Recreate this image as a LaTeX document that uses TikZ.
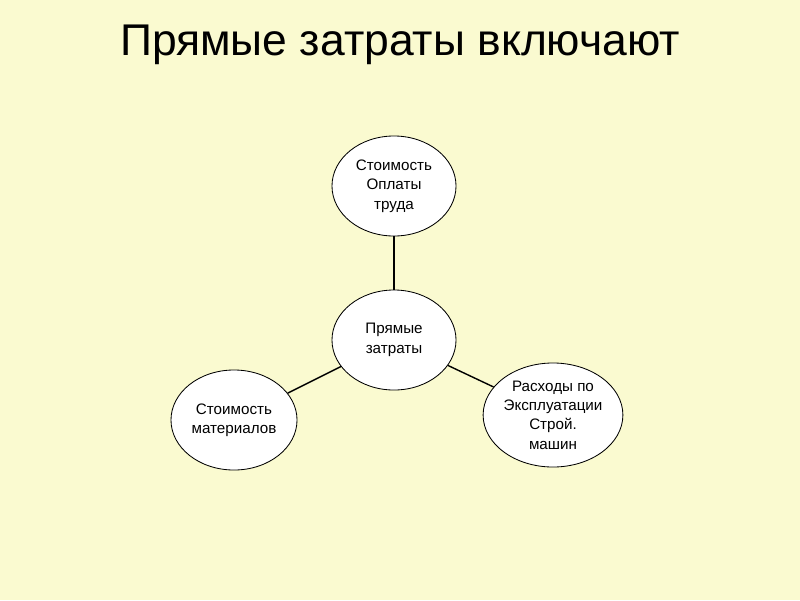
\documentclass[tikz,border=0pt]{standalone}
\usepackage{fontspec}
\setmainfont{Liberation Sans}
\usetikzlibrary{positioning,shapes.geometric}
\definecolor{slidebg}{RGB}{250,250,208}
\tikzset{
  costbox/.style={draw, ellipse, fill=white, line width=0.6pt, minimum width=3.1cm, minimum height=2.5cm,
    align=center, font=\fontsize{10.8}{13.8}\selectfont, inner sep=0pt},
  link/.style={line width=1pt}
}
\begin{document}
\begin{tikzpicture}[x=0.025cm,y=-0.025cm]
\fill[slidebg] (0,0) rectangle (800,600);
\useasboundingbox (0,0) rectangle (800,600);
% title
\node[font=\fontsize{31.6}{36}\selectfont] (title) at (400,45) {Прямые затраты включают};

% circles
\node[costbox] (centre) at (394,340) {Прямые\\затраты};
\node[costbox] (labour) at (394,186) {Стоимость\\Оплаты\\труда};
\node[costbox, minimum width=3.15cm] (mater) at (234,420) {Стоимость\\материалов};
\node[costbox, minimum height=2.6cm] (machine) at (553,415) {Расходы по\\Эксплуатации\\Строй.\\машин};

% links
\draw[link] (centre) -- (labour);
\draw[link] (centre) -- (mater);
\draw[link] (centre) -- (machine);
\end{tikzpicture}
\end{document}
